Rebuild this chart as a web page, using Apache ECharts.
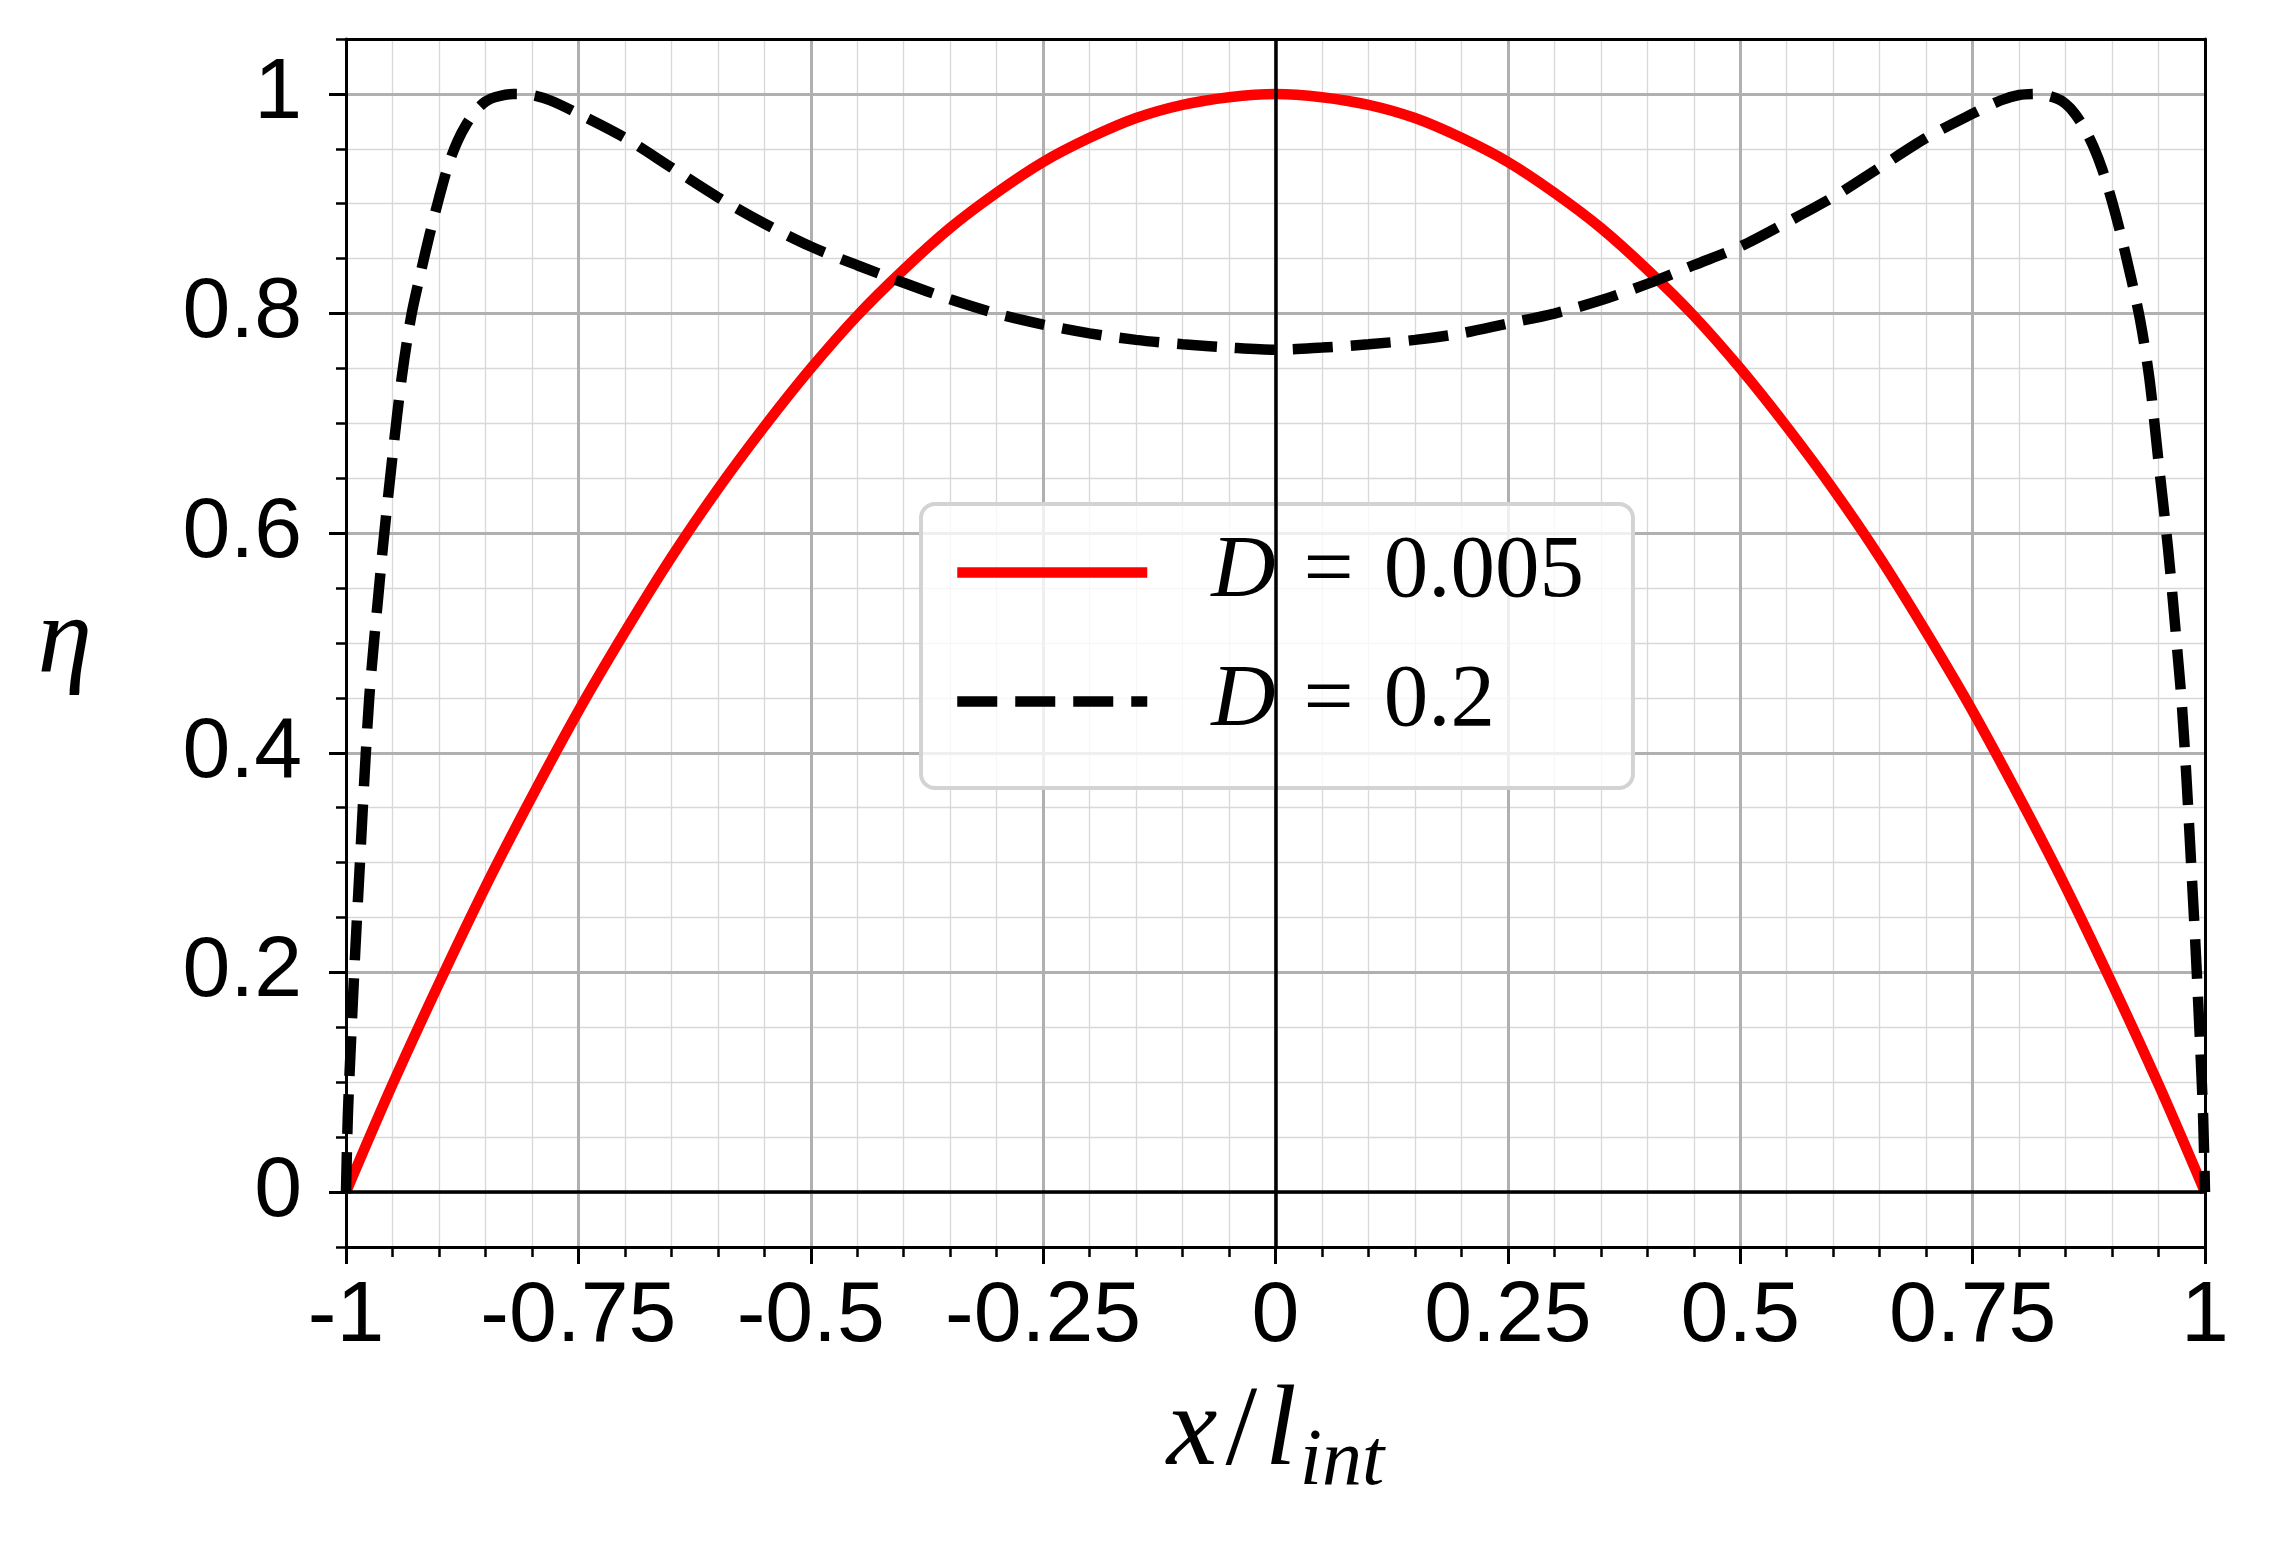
<!DOCTYPE html>
<html>
<head>
<meta charset="utf-8">
<title>eta profile</title>
<script src="https://cdn.jsdelivr.net/npm/echarts@6/dist/echarts.min.js"></script>
<style>
  html, body { margin: 0; padding: 0; background: #fff; }
  #chart { width: 2270px; height: 1541px; }
</style>
</head>
<body>
<div id="chart"></div>
<script>
// values: x / l_int and eta
const redX = [-1, -0.95, -0.9, -0.85, -0.8, -0.75, -0.7, -0.65, -0.6, -0.55, -0.5,
  -0.45, -0.4, -0.35, -0.3, -0.25, -0.2, -0.15, -0.1, -0.05, 0,
  0.05, 0.1, 0.15, 0.2, 0.25, 0.3, 0.35, 0.4, 0.45, 0.5,
  0.55, 0.6, 0.65, 0.7, 0.75, 0.8, 0.85, 0.9, 0.95, 1];
const redY = [0, 0.098, 0.19, 0.278, 0.36, 0.438, 0.51, 0.578, 0.64, 0.697, 0.75,
  0.798, 0.84, 0.878, 0.91, 0.938, 0.96, 0.978, 0.99, 0.997, 1,
  0.997, 0.99, 0.978, 0.96, 0.938, 0.91, 0.878, 0.84, 0.798, 0.75,
  0.697, 0.64, 0.578, 0.51, 0.438, 0.36, 0.278, 0.19, 0.098, 0];

const blackX = [-1, -0.998, -0.995, -0.99, -0.985, -0.98, -0.975, -0.97, -0.965, -0.96,
  -0.95, -0.94, -0.93, -0.92, -0.91, -0.9, -0.89, -0.88, -0.87, -0.86, -0.85, -0.84,
  -0.82, -0.8, -0.78, -0.75, -0.7, -0.65, -0.6, -0.55, -0.5, -0.45,
  -0.4, -0.35, -0.3, -0.25, -0.2, -0.15, -0.1, -0.05, 0,
  0.05, 0.1, 0.15, 0.2, 0.25, 0.3, 0.35, 0.4, 0.45, 0.5,
  0.55, 0.6, 0.65, 0.7, 0.75, 0.78, 0.8, 0.82, 0.84, 0.85, 0.86, 0.87,
  0.88, 0.89, 0.9, 0.91, 0.92, 0.93, 0.94, 0.95, 0.96, 0.965,
  0.97, 0.975, 0.98, 0.985, 0.99, 0.995, 0.998, 1];
const blackY = [0, 0.07, 0.13, 0.22, 0.3, 0.38, 0.45, 0.5, 0.545, 0.59,
  0.67, 0.742, 0.797, 0.836, 0.872, 0.905, 0.935, 0.957, 0.973, 0.985, 0.993, 0.997,
  1, 0.999, 0.994, 0.982, 0.96, 0.933, 0.906, 0.882, 0.861, 0.844,
  0.828, 0.813, 0.8, 0.79, 0.782, 0.776, 0.772, 0.769, 0.767,
  0.769, 0.772, 0.776, 0.782, 0.791, 0.8, 0.812, 0.827, 0.844, 0.861,
  0.883, 0.906, 0.933, 0.96, 0.982, 0.994, 0.999, 1, 0.996, 0.991, 0.982, 0.969,
  0.952, 0.93, 0.902, 0.87, 0.834, 0.795, 0.742, 0.665, 0.588, 0.543,
  0.495, 0.445, 0.378, 0.3, 0.22, 0.13, 0.068, 0];

const yTicks = [0, 0.2, 0.4, 0.6, 0.8, 1];
const seriesNames = ['D = 0.005', 'D = 0.2'];

const SANS = 'Liberation Sans';
const SERIF = 'Liberation Serif';
const MAJOR_GRID = '#b0b0b0';
const MINOR_GRID = '#d8d8d8';
const LINE_W = 10.5;

const chart = echarts.init(document.getElementById('chart'));

// spine-only axis (drawn above the curves like matplotlib spines)
function spine(position, isX) {
  return {
    type: 'value',
    min: isX ? -1 : -0.05,
    max: isX ? 1 : 1.05,
    position: position,
    z: 3,
    axisLine: { show: true, onZero: false, lineStyle: { color: '#000', width: 3 } },
    axisTick: { show: false },
    axisLabel: { show: false },
    splitLine: { show: false }
  };
}

const zeroLine = { color: '#000', width: 3.5, type: 'solid' };

const option = {
  backgroundColor: '#fff',
  animation: false,
  grid: { left: 346, right: 65, top: 39, bottom: 294, outerBoundsMode: 'none' },
  legend: {
    orient: 'vertical',
    left: 921,
    top: 504,
    selectedMode: false,
    itemWidth: 190,
    itemHeight: 20,
    itemGap: 40,
    padding: [24, 49, 42, 31],
    backgroundColor: 'rgba(255,255,255,0.8)',
    borderColor: '#d3d3d3',
    borderWidth: 4,
    borderRadius: 14,
    lineStyle: { width: LINE_W },
    itemStyle: { opacity: 0 },
    data: seriesNames,
    formatter: function (name) {
      return '{i|D}{e|=}{n|' + name.split('= ')[1] + '}';
    },
    textStyle: {
      color: '#000',
      padding: [0, 0, 0, 59],
      rich: {
        i: { fontFamily: SERIF, fontStyle: 'italic', fontSize: 89, lineHeight: 86, color: '#000' },
        e: { fontFamily: SERIF, fontSize: 89, lineHeight: 86, padding: [0, 30, 0, 28], color: '#000' },
        n: { fontFamily: SERIF, fontSize: 89, lineHeight: 86, color: '#000' }
      }
    }
  },
  xAxis: [
    {
      type: 'value',
      min: -1,
      max: 1,
      interval: 0.25,
      position: 'bottom',
      axisLine: { show: false, onZero: false },
      axisTick: { show: true, length: 17, lineStyle: { color: '#000', width: 3 } },
      minorTick: { show: true, splitNumber: 5, length: 10, lineStyle: { color: '#000', width: 2.5 } },
      axisLabel: {
        show: true, margin: 27, color: '#000', fontFamily: SANS, fontSize: 86,
        showMinLabel: true, showMaxLabel: true
      },
      splitLine: { show: true, lineStyle: { color: MAJOR_GRID, width: 3 } },
      minorSplitLine: { show: true, lineStyle: { color: MINOR_GRID, width: 1.3 } },
      name: '{i|x}{n|/}{i|l}{s|int}',
      nameLocation: 'middle',
      nameGap: 124,
      nameTextStyle: {
        rich: {
          i: { fontFamily: SERIF, fontStyle: 'italic', fontSize: 114, lineHeight: 112, color: '#000' },
          n: { fontFamily: SERIF, fontSize: 114, lineHeight: 112, color: '#000', padding: [0, 8, 0, 8] },
          s: { fontFamily: SERIF, fontStyle: 'italic', fontSize: 80, lineHeight: 80, color: '#000', padding: [58, 0, 0, 3] }
        }
      }
    },
    spine('top', true),
    spine('bottom', true)
  ],
  yAxis: [
    {
      // major ticks, labels and grid
      type: 'value',
      min: -0.05,
      max: 1.05,
      position: 'left',
      z: 1,
      axisLine: { show: false, onZero: false },
      axisTick: { show: true, length: 17, customValues: yTicks, lineStyle: { color: '#000', width: 3 } },
      axisLabel: {
        show: true, margin: 44, color: '#000', fontFamily: SANS, fontSize: 86,
        customValues: yTicks
      },
      splitLine: { show: true, lineStyle: { color: MAJOR_GRID, width: 3 } },
      name: 'η',
      nameLocation: 'middle',
      nameRotate: 0,
      nameGap: 254,
      nameTextStyle: { fontFamily: SERIF, fontStyle: 'italic', fontSize: 110, color: '#000' }
    },
    {
      // minor ticks and grid every 0.05
      type: 'value',
      min: -0.05,
      max: 1.05,
      interval: 0.05,
      position: 'left',
      z: 0,
      axisLine: { show: false, onZero: false },
      axisTick: { show: true, length: 10, lineStyle: { color: '#000', width: 2.5 } },
      axisLabel: { show: false },
      splitLine: { show: true, lineStyle: { color: MINOR_GRID, width: 1.3 } }
    },
    spine('left', false),
    spine('right', false)
  ],
  series: [
    {
      // zero lines (axhline / axvline)
      type: 'line',
      xAxisIndex: 0,
      yAxisIndex: 0,
      z: 1,
      silent: true,
      data: [],
      markLine: {
        silent: true,
        symbol: 'none',
        label: { show: false },
        lineStyle: zeroLine,
        emphasis: { disabled: true },
        data: [
          { yAxis: 0, lineStyle: zeroLine },
          { xAxis: 0, lineStyle: zeroLine }
        ]
      }
    },
    {
      name: seriesNames[0],
      type: 'line',
      xAxisIndex: 0,
      yAxisIndex: 0,
      z: 2,
      showSymbol: false,
      symbol: 'none',
      smooth: 0.3,
      lineStyle: { color: '#ff0000', width: LINE_W },
      itemStyle: { color: '#ff0000' },
      data: redX.map((x, i) => [x, redY[i]])
    },
    {
      name: seriesNames[1],
      type: 'line',
      xAxisIndex: 0,
      yAxisIndex: 0,
      z: 2,
      showSymbol: false,
      symbol: 'none',
      smooth: 0.3,
      lineStyle: { color: '#000', width: LINE_W, type: [40, 18] },
      itemStyle: { color: '#000' },
      data: blackX.map((x, i) => [x, blackY[i]])
    }
  ]
};

chart.setOption(option);
</script>
</body>
</html>
